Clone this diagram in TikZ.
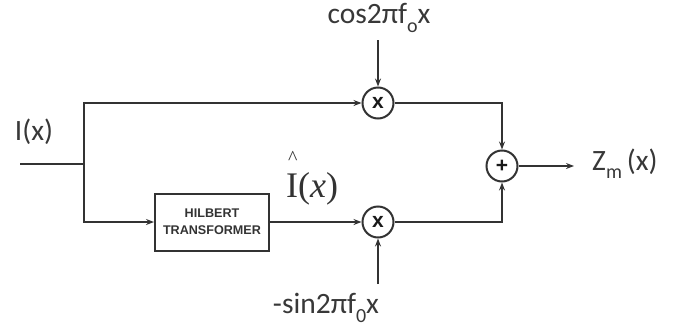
\documentclass[tikz,border=0pt]{standalone}
\usepackage{fontspec}
\setmainfont{Carlito}
\newfontfamily\libserif{Liberation Serif}
\newfontfamily\libsans{Liberation Sans}
\usetikzlibrary{arrows.meta}
\newcommand{\lowsub}[1]{\raisebox{-0.28em}{\fontsize{20}{20}\selectfont #1}}
\begin{document}
\begin{tikzpicture}[x=1pt,y=-1pt,
  wire/.style={draw=black!80,line width=2pt},
  arr/.style={wire,-{Stealth[length=8pt,width=6pt]}},
  opnode/.style={circle,draw=black!80,line width=2pt,minimum size=31pt,inner sep=0pt,font=\libsans\bfseries\fontsize{21}{21}\selectfont,text=black!90},
  blk/.style={rectangle,draw=black!80,line width=2pt,minimum width=114pt,minimum height=57pt,inner sep=0pt,align=center,font=\libsans\bfseries\fontsize{12.6}{17}\selectfont,text=black!80},
  lbl/.style={inner sep=0pt,text=black!78,font=\fontsize{29.5}{29.5}\selectfont}]
\useasboundingbox (0,0) rectangle (678,335);
% nodes
\coordinate (in) at (20,164);
\coordinate (split) at (84,164);
\node[opnode] (mul1) at (378,103) {x};
\node[opnode] (mul2) at (378,222) {x};
\node[opnode] (add) at (502,166) {+};
\node[blk] (hil) at (212,222) {HILBERT\\TRANSFORMER};
\coordinate (cosS) at (378,40);
\coordinate (sinS) at (378,284);
\coordinate (out) at (574,166);
\node[lbl] (coslbl) at (379,18) {cos2πf\lowsub{o}x};
\node[lbl] (sinlbl) at (326,308) {-sin2πf\lowsub{0}x};
\node[lbl,anchor=west] (zlbl) at (592,164) {Z\lowsub{m}\,(x)};
\node[lbl] (ilbl) at (34,132) {I(x)};
\node[inner sep=0pt,anchor=south west,align=left,text=black!80,font=\libserif] (ihat) at (286,205)
  {\fontsize{20}{20}\selectfont\hspace*{2pt}\^{}\\[7pt]\fontsize{36}{36}\selectfont I(\textit{x})};
% connectors
\draw[wire] (in) -- (split);
\draw[arr] (split) |- (mul1);
\draw[arr] (split) |- (hil);
\draw[arr] (hil) -- (mul2);
\draw[arr] (mul1) -| (add);
\draw[arr] (mul2) -| (add);
\draw[arr] (add) -- (out);
\draw[arr] (cosS) -- (mul1);
\draw[arr] (sinS) -- (mul2);
\end{tikzpicture}
\end{document}
